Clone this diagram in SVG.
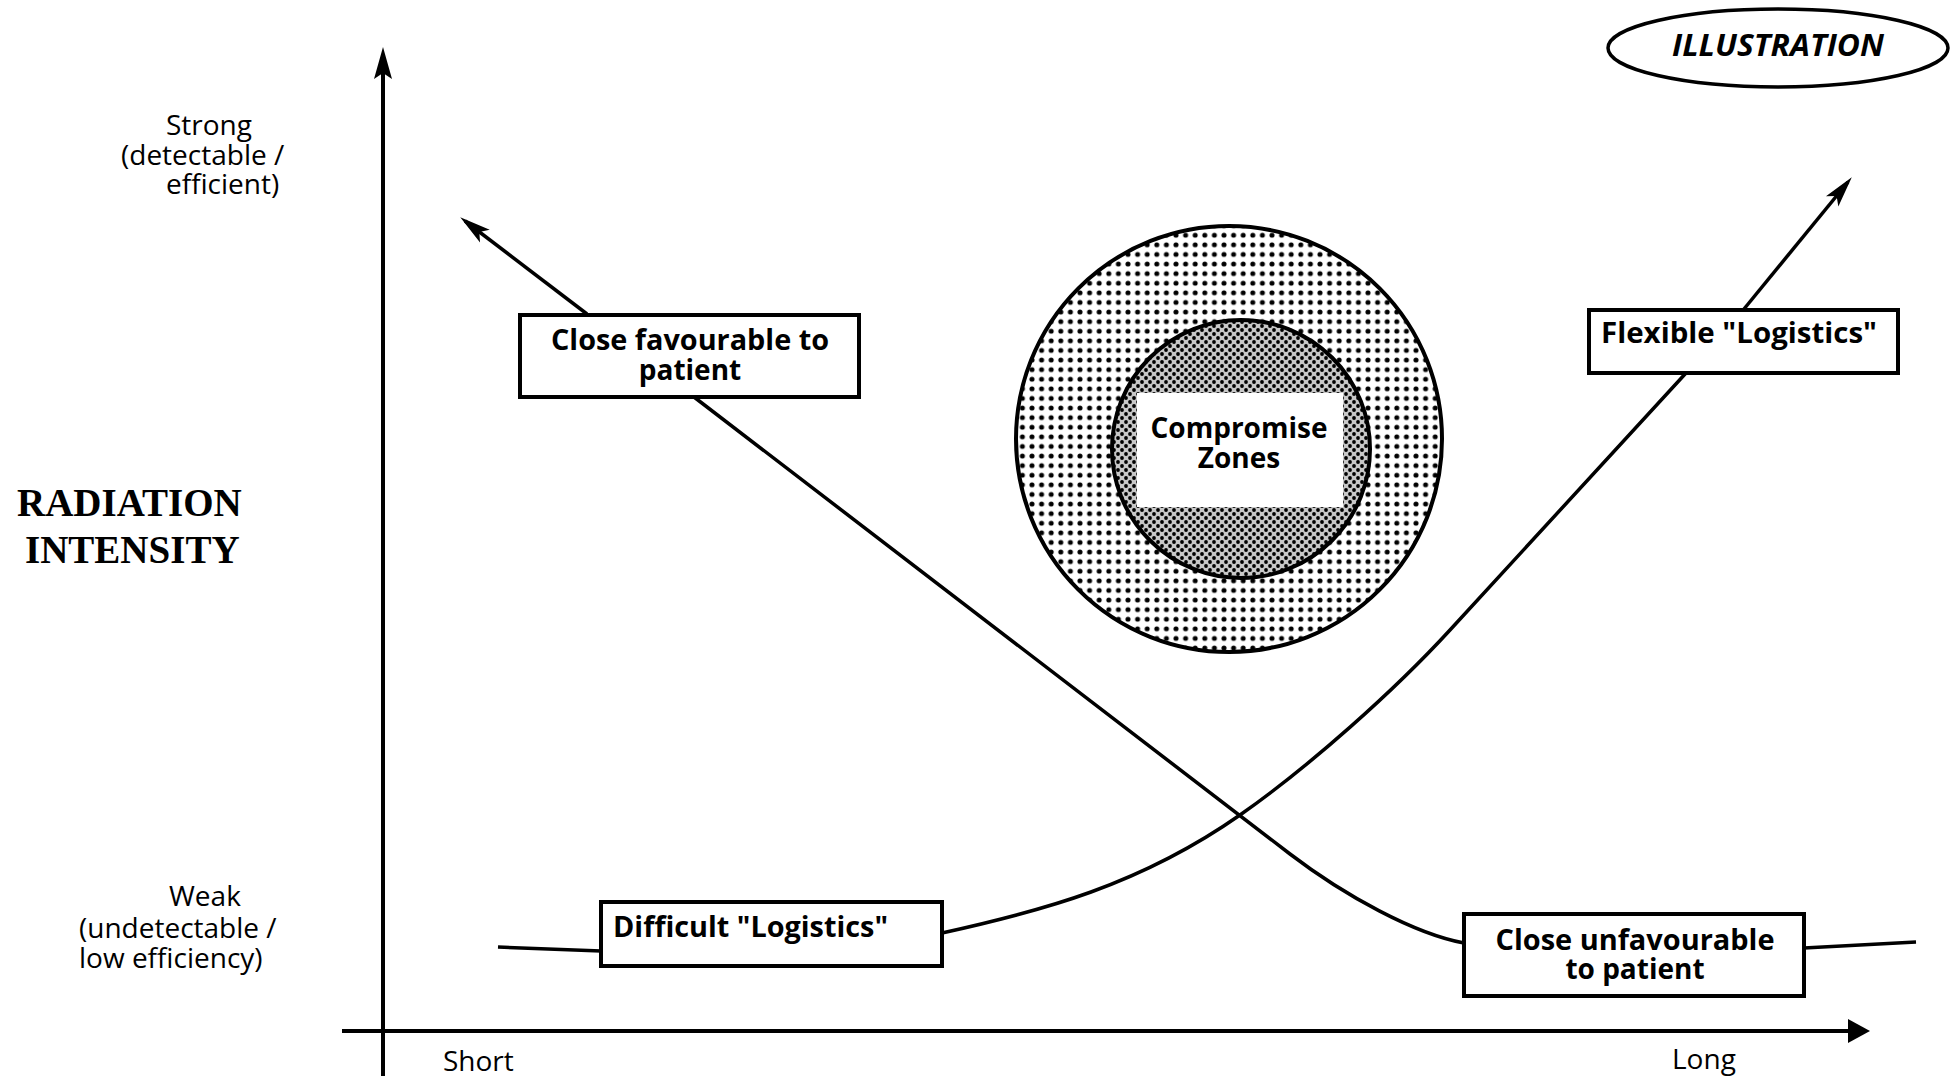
<svg xmlns="http://www.w3.org/2000/svg" width="1952" height="1076" viewBox="0 0 1952 1076">
<style>
.lbl{font-family:"Open Sans","Liberation Sans",sans-serif;font-size:28px;fill:#000}
.bt{font-family:"Open Sans","Liberation Sans",sans-serif;font-size:28px;font-weight:bold;fill:#000}
.title{font-family:"Liberation Serif","Times New Roman",serif;font-size:39px;font-weight:bold;fill:#000}
.box{fill:#fff;stroke:#000;stroke-width:4}
.ln{fill:none;stroke:#000;stroke-width:3.5}
.ax{fill:none;stroke:#000;stroke-width:4}
.ring{stroke:#000;stroke-width:4}
</style>
<defs>
<pattern id="dots" width="9.6" height="9.6" patternUnits="userSpaceOnUse">
<rect width="9.6" height="9.6" fill="#fff"/>
<circle cx="4.8" cy="4.8" r="2.5" fill="#000"/>
</pattern>
<pattern id="fine" width="8" height="8" patternUnits="userSpaceOnUse">
<rect width="8" height="8" fill="#c8c8c8"/>
<circle cx="2" cy="2" r="1.9" fill="#000"/>
<circle cx="6" cy="6" r="1.9" fill="#000"/>
</pattern>
<marker id="ahCurve" markerUnits="userSpaceOnUse" markerWidth="40" markerHeight="30" refX="0" refY="0" orient="auto" overflow="visible">
<path d="M6,0 L-25,-8 L-18,0 L-25,8 Z" fill="#000"/>
</marker>
<marker id="ahY" markerUnits="userSpaceOnUse" markerWidth="40" markerHeight="30" refX="0" refY="0" orient="auto" overflow="visible">
<path d="M16,0 L-16,-9 L-10,0 L-16,9 Z" fill="#000"/>
</marker>
<marker id="ahX" markerUnits="userSpaceOnUse" markerWidth="40" markerHeight="30" refX="0" refY="0" orient="auto" overflow="visible">
<path d="M14,0 L-8,-12 L-8,12 Z" fill="#000"/>
</marker>
</defs>
<rect width="1952" height="1076" fill="#fff"/>

<g id="connectors">
<path class="ax" d="M383,1076 L383,63" marker-end="url(#ahY)"/>
<path class="ax" d="M342,1031 L1856,1031" marker-end="url(#ahX)"/>
<path class="ln" d="M587,314 L465,221" marker-end="url(#ahCurve)"/>
<path class="ln" d="M694,397 L1290,854 C1345,896 1415,934 1464,943"/>
<path class="ln" d="M1804,948 L1916,942"/>
<path class="ln" d="M498,947 L601,951"/>
<path class="ln" d="M942,933 C1042,911 1140,885 1240,815 C1310,766 1395,690 1450,630 L1686,373"/>
<path class="ln" d="M1744,309 L1848,182" marker-end="url(#ahCurve)"/>
</g>

<g id="axis-labels">
<text class="lbl" x="166" y="135">Strong</text>
<text class="lbl" x="121" y="165">(detectable /</text>
<text class="lbl" x="166" y="194">efficient)</text>
<text class="lbl" x="169" y="906">Weak</text>
<text class="lbl" x="79" y="938">(undetectable /</text>
<text class="lbl" x="79" y="968">low efficiency)</text>
<text class="title" x="17" y="516">RADIATION</text>
<text class="title" x="25" y="563">INTENSITY</text>
<text class="lbl" x="443" y="1071">Short</text>
<text class="lbl" x="1672" y="1069">Long</text>
</g>

<g id="illustration">
<ellipse cx="1778" cy="48" rx="170" ry="39" fill="#fff" stroke="#000" stroke-width="3.5"/>
<text x="1778" y="56" text-anchor="middle" textLength="212" lengthAdjust="spacingAndGlyphs" style="font-family:'Open Sans','Liberation Sans',sans-serif;font-size:30px;font-weight:bold;font-style:italic">ILLUSTRATION</text>
</g>

<g id="compromise-zones">
<circle class="ring" cx="1229" cy="439" r="213" fill="url(#dots)"/>
<circle class="ring" cx="1241" cy="449" r="129" fill="url(#fine)"/>
<rect x="1137" y="393" width="206" height="114" fill="#fff"/>
<text class="bt" x="1239" y="438" text-anchor="middle">Compromise</text>
<text class="bt" x="1239" y="468" text-anchor="middle">Zones</text>
</g>

<g id="close-favourable">
<rect class="box" x="520" y="315" width="339" height="82"/>
<text class="bt" x="690" y="350" text-anchor="middle" textLength="278" lengthAdjust="spacingAndGlyphs">Close favourable to</text>
<text class="bt" x="690" y="380" text-anchor="middle">patient</text>
</g>

<g id="flexible-logistics">
<rect class="box" x="1589" y="310" width="309" height="63"/>
<text class="bt" x="1601" y="343" textLength="276" lengthAdjust="spacingAndGlyphs">Flexible "Logistics"</text>
</g>

<g id="difficult-logistics">
<rect class="box" x="601" y="902" width="341" height="64"/>
<text class="bt" x="613" y="937" textLength="275" lengthAdjust="spacingAndGlyphs">Difficult "Logistics"</text>
</g>

<g id="close-unfavourable">
<rect class="box" x="1464" y="914" width="340" height="82"/>
<text class="bt" x="1635" y="950" text-anchor="middle" textLength="279" lengthAdjust="spacingAndGlyphs">Close unfavourable</text>
<text class="bt" x="1635" y="979" text-anchor="middle">to patient</text>
</g>
</svg>
